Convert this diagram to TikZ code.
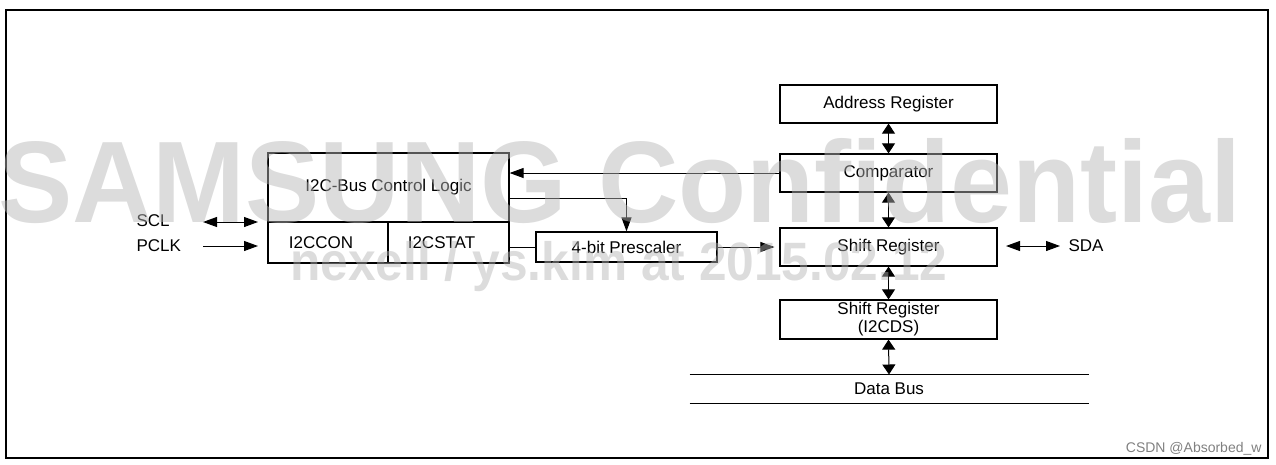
\documentclass[tikz,border=0pt]{standalone}
\usepackage{fontspec}
\setmainfont{Liberation Sans}
\usetikzlibrary{arrows.meta}

\begin{document}
\begin{tikzpicture}[x=1pt,y=-1pt,line width=1pt,>={Triangle[length=14pt,width=10pt]},
  font=\fontsize{17}{19}\selectfont,
  blk/.style={draw,line width=1.2pt,minimum width=217pt,minimum height=38pt,inner sep=0pt},
  vtip/.style={{Triangle[length=10pt,width=13pt]}-{Triangle[length=10pt,width=13pt]}},
  lbl/.style={anchor=west,inner sep=0pt},
  wmark/.style={text=black!29,opacity=0.47,anchor=base,inner sep=0pt}]
\useasboundingbox (0,0) rectangle (1276,464);
\draw[line width=2pt] (6,10) rectangle (1268,458);
\node[blk] (addr) at (888.5,104) {Address Register};
\node[blk] (comp) at (888.5,173) {Comparator};
\node[blk] (shift) at (888.5,247) {Shift Register};
\node[blk,minimum height=39pt,align=center,font=\fontsize{17}{18}\selectfont] (ds) at (888.5,319.5) {Shift Register\\(I2CDS)};
\node[minimum width=398pt,minimum height=28pt,inner sep=0pt] (bus) at (889,389) {Data Bus};
\draw (bus.north west) -- (bus.north east) (bus.south west) -- (bus.south east);
\node[blk,minimum width=241pt,minimum height=69pt] (logic) at (388.5,187.5) {I2C-Bus Control Logic};
\node[blk,minimum width=120pt,minimum height=41pt] (con) at (328,242.5) {I2CCON\kern14pt};
\node[blk,minimum width=121pt,minimum height=41pt] (stat) at (448.5,242.5) {I2CSTAT\kern14pt};
\node[blk,minimum width=181pt,minimum height=30pt] (presc) at (626.5,247) {4-bit Prescaler};
\node[lbl] (scl) at (136,221) {SCL};
\node[lbl] (pclk) at (136,246) {PCLK};
\node[lbl] (sda) at (1068,246) {SDA};
\coordinate (sclA) at (203,222); \coordinate (sclB) at (258,222);
\coordinate (pclkA) at (203,246); \coordinate (pclkB) at (258,246);
\coordinate (sdaA) at (1006,246); \coordinate (sdaB) at (1060,246);
\draw[<->] (sclA) -- (sclB);
\draw[->] (pclkA) -- (pclkB);
\draw[<->] (sdaA) -- (sdaB);
\draw[vtip] (addr.south) -- (comp.north);
\draw[vtip] (comp.south) -- (shift.north);
\draw[vtip] (shift.south) -- (ds.north);
\draw[vtip] (ds.south) -- (bus.north);
\draw[->] (comp.west) -- (comp.west -| logic.east);
\draw[->] ([yshift=-10.5pt]logic.east) -| (presc.north);
\draw (presc.west -| stat.east) -- (presc.west);
\draw[->,shorten >=5pt] (presc.east) -- (shift.west);
\node[anchor=base east,inner sep=0pt,text=black!50,font=\fontsize{14}{16}\selectfont] (csdn) at (1262,452) {CSDN @Absorbed\_w};
\node[wmark,font=\bfseries\fontsize{116}{116}\selectfont,xscale=0.96] (wmA) at (620,222) {SAMSUNG Confidential};
\node[wmark,font=\bfseries\fontsize{54}{54}\selectfont,xscale=0.92] (wmB) at (619,280) {nexell / ys.kim at 2015.02.12};
\end{tikzpicture}
\end{document}
